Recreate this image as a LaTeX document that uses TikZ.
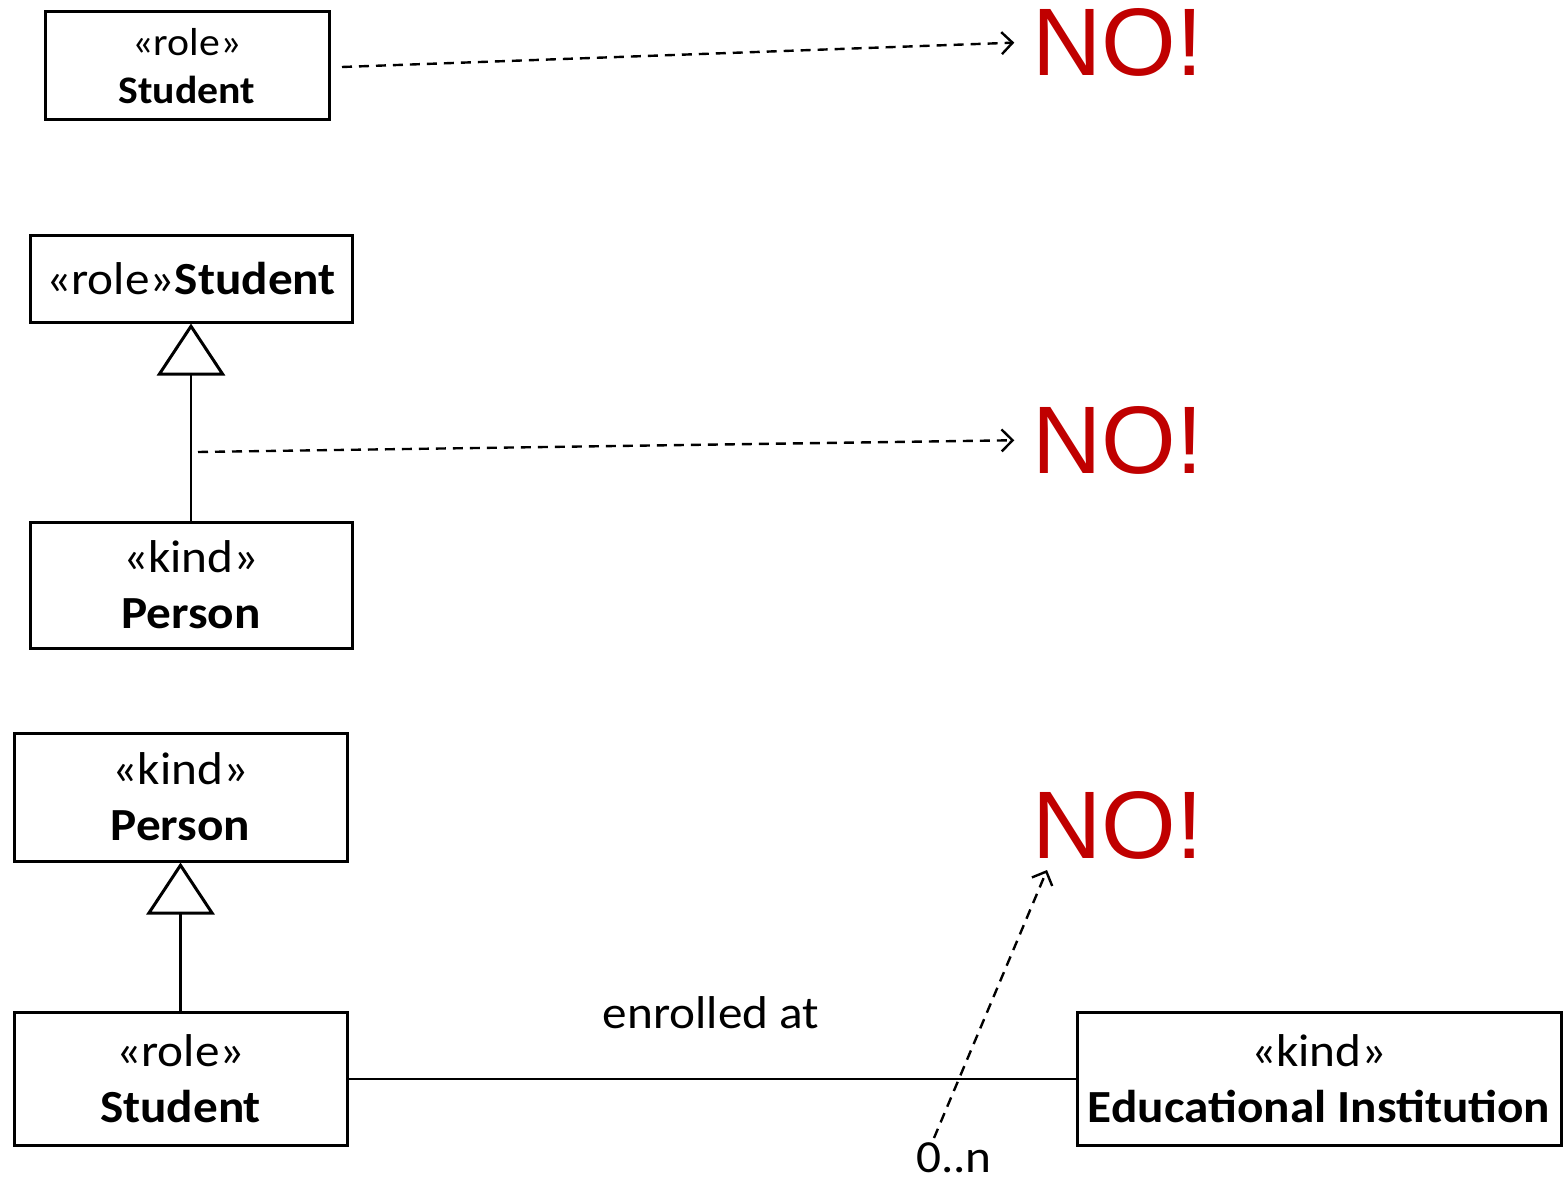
\documentclass[tikz,border=0pt]{standalone}
\usepackage{fontspec}
\setmainfont{Carlito}[FakeStretch=1.07]
\newfontfamily\arialfont{Liberation Sans}
\usetikzlibrary{arrows.meta}
\definecolor{nored}{RGB}{192,0,0}
\begin{document}
\begin{tikzpicture}[x=0.5pt,y=-0.5pt,
  umlbox/.style={draw, line width=1.5pt, inner sep=0pt, align=center,
    font=\fontsize{23}{28}\selectfont},
  smallbox/.style={umlbox, font=\fontsize{19.5}{24}\selectfont},
  verdict/.style={inner sep=0pt, text=nored, font=\arialfont\fontsize{48}{50}\selectfont},
  plain/.style={inner sep=0pt, font=\fontsize{23}{26}\selectfont},
  dep/.style={draw, line width=1.2pt, dash pattern=on 5pt off 3.5pt,
    -{Straight Barb[length=5.5pt, width=11pt, line width=1.2pt]}},
  gen/.style={draw, line width=1.1pt,
    -{Triangle[open, length=26pt, width=34pt, line width=1.5pt]}},
  assoc/.style={draw, line width=1.1pt}]
\useasboundingbox (0,0) rectangle (1567,1182);

% first case: a role on its own
\node[smallbox, minimum width=142pt, minimum height=54pt] (A) at (187,66)
  {«role»\\\textbf{Student}};
\node[verdict] (no1) at (1118,42) {NO!};
\coordinate (sA) at (342,67);
\draw[dep, shorten >=9pt] (sA) -- (no1.west);

% second case: a role specialised by a kind
\node[umlbox, minimum width=161pt, minimum height=43pt] (B) at (191,279)
  {«role»\textbf{Student}};
\node[umlbox, minimum width=161pt, minimum height=63pt] (C) at (191,585)
  {«kind»\\\textbf{Person}};
\draw[gen] (C.north) -- (B.south);
\node[verdict] (no2) at (1118,440) {NO!};
\coordinate (sB) at (198,452);
\draw[dep, shorten >=9pt] (sB) -- (no2.west);

% third case: a role specialising a kind with an association
\node[umlbox, minimum width=166.5pt, minimum height=64pt] (D) at (180.5,797)
  {«kind»\\\textbf{Person}};
\node[umlbox, minimum width=166.5pt, minimum height=66.5pt] (E) at (180.5,1079)
  {«role»\\\textbf{Student}};
\node[umlbox, minimum width=242pt, minimum height=66.5pt] (F) at (1319,1079)
  {«kind»\\\textbf{Educational Institution}};
\draw[gen] (E.north) -- (D.south);
\draw[assoc] (E.east) -- (F.west);
\node[plain] (lbl) at (711,1013) {enrolled at};
\node[plain] (mult) at (954,1158) {0..n};
\node[verdict] (no3) at (1118,825) {NO!};
\coordinate (sC) at (934,1138);
\coordinate (eC) at (1047,870);
\draw[dep] (sC) -- (eC);
\end{tikzpicture}
\end{document}
